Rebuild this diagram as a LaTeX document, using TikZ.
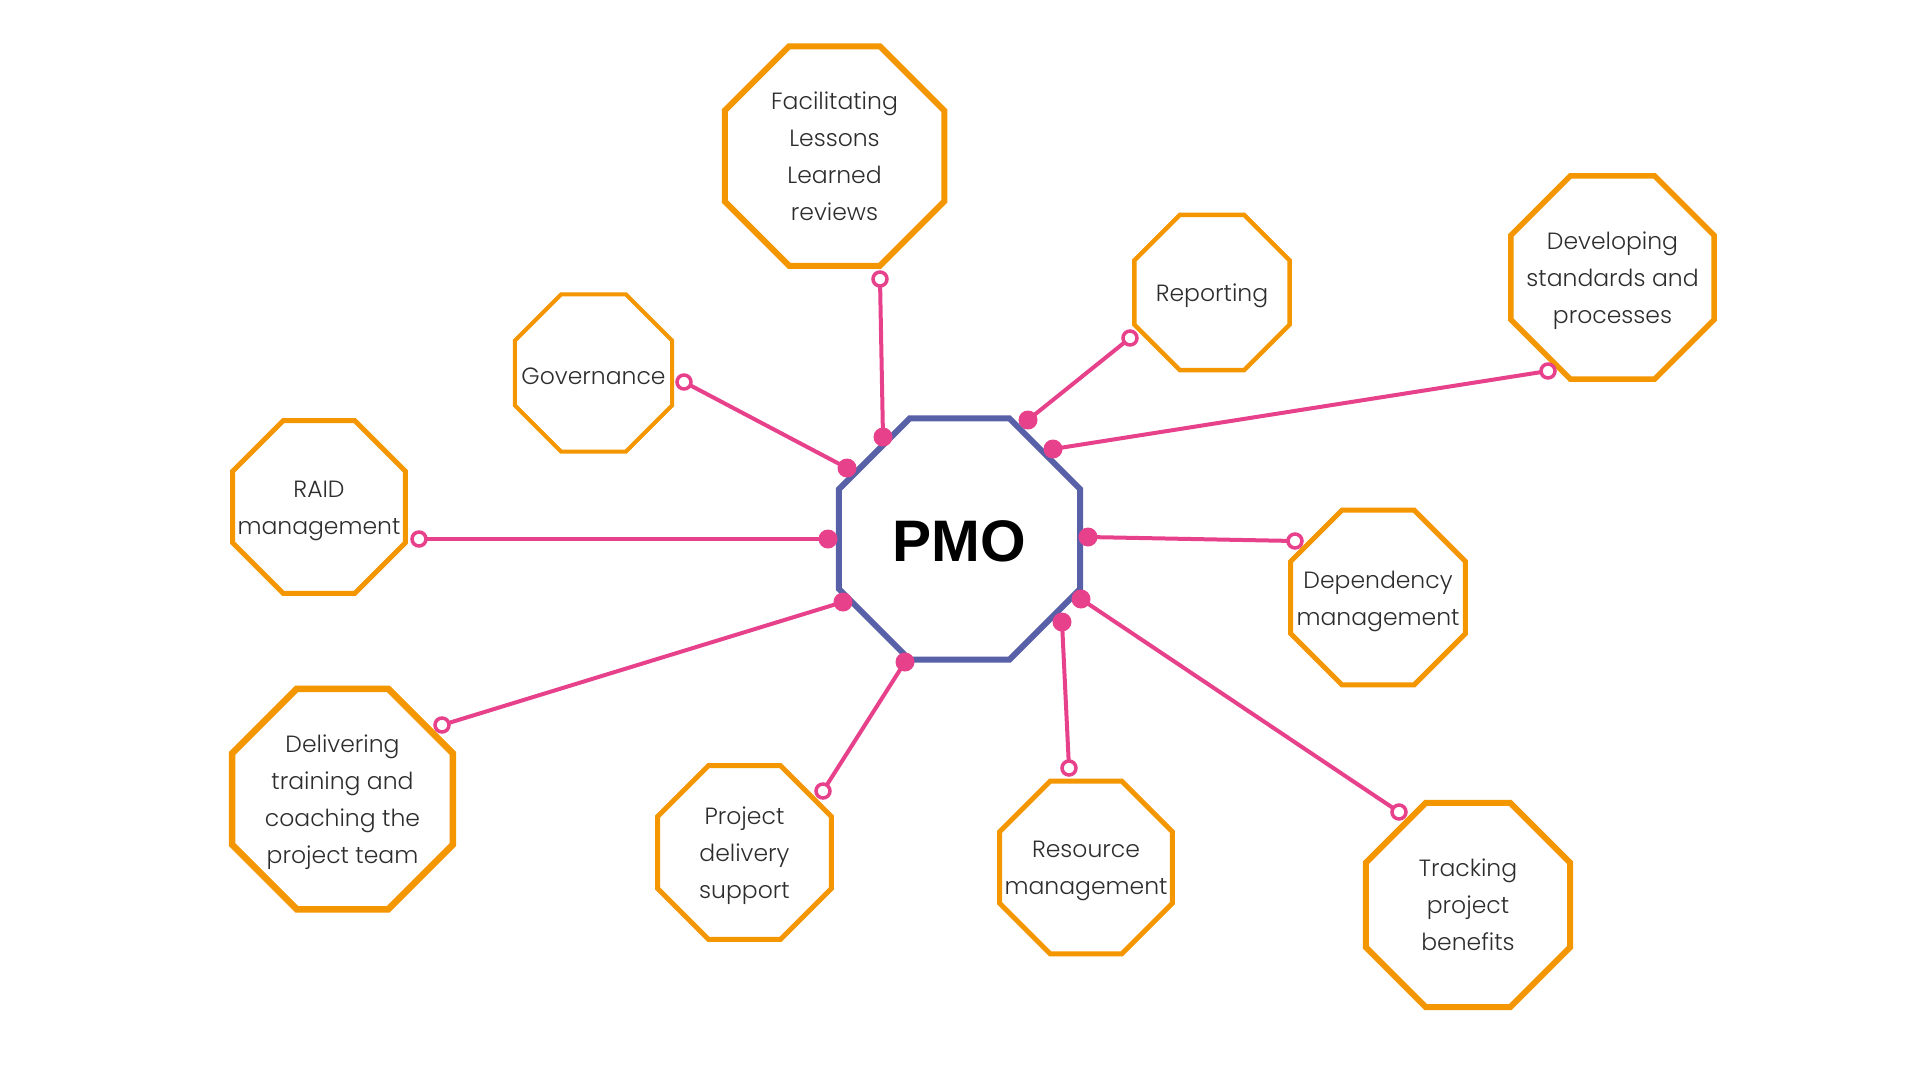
\documentclass[tikz,border=0pt]{standalone}
\usepackage{fontspec}
\usetikzlibrary{shapes.geometric}
\IfFontExistsTF{Poppins Light}{\newfontfamily\labfont{Poppins Light}}{%
 \IfFontExistsTF{Poppins-Light.ttf}{\newfontfamily\labfont{Poppins-Light.ttf}}{%
  \IfFontExistsTF{Poppins-Light.otf}{\newfontfamily\labfont{Poppins-Light.otf}}{%
   \IfFontExistsTF{Lato-Light.ttf}{\newfontfamily\labfont{Lato-Light.ttf}}{%
    \newfontfamily\labfont{Poppins}}}}}
\newfontfamily\pmofont{Liberation Sans}
\definecolor{ocol}{RGB}{243,150,0}
\definecolor{pcol}{RGB}{232,65,140}
\definecolor{bcol}{RGB}{88,96,168}
\definecolor{textc}{RGB}{45,45,45}
\begin{document}
\begin{tikzpicture}[x=1pt,y=-1pt,
  oct/.style={regular polygon, regular polygon sides=8, inner sep=0pt, draw=ocol, fill=white},
  lab/.style={align=center, inner sep=0pt, yshift=-3.5pt, font=\labfont\fontsize{23.5}{37}\selectfont, text=textc},
  conn/.style={draw=pcol, line width=4pt},
  hub/.style={circle, fill=pcol, minimum size=19pt, inner sep=0pt},
  tip/.style={circle, draw=pcol, fill=white, line width=3.5pt, minimum size=14pt, inner sep=0pt}]
\useasboundingbox[fill=white] (0,0) rectangle (1920,1080);

% central hub
\node[regular polygon, regular polygon sides=8, inner sep=0pt, draw=bcol, fill=white,
      line width=6pt, minimum size=261pt] (pmo) at (959.5,539) {};
\node[font=\pmofont\bfseries\fontsize{58.6}{60}\selectfont, inner sep=0pt, yshift=-2pt] (pmol) at (pmo) {PMO};

% outer octagons
\node[oct, line width=6pt, minimum size=237.6pt] (fac) at (834.5,156) {};
\node[lab, yshift=3pt] (facl) at (fac) {Facilitating\\Lessons\\Learned\\reviews};
\node[oct, line width=4pt, minimum size=170pt] (gov) at (593.5,373) {};
\node[lab] (govl) at (gov) {Governance};
\node[oct, line width=4.5pt, minimum size=168pt] (rep) at (1212,292.5) {};
\node[lab] (repl) at (rep) {Reporting};
\node[oct, line width=5.5pt, minimum size=220pt] (dev) at (1612.5,277.5) {};
\node[lab] (devl) at (dev) {Developing\\standards and\\processes};
\node[oct, line width=5pt, minimum size=187pt] (raid) at (319,507) {};
\node[lab] (raidl) at (raid) {RAID\\management};
\node[oct, line width=5pt, minimum size=189pt] (dep) at (1378,597.5) {};
\node[lab] (depl) at (dep) {Dependency\\management};
\node[oct, line width=6.5pt, minimum size=238.7pt] (del) at (342.5,799) {};
\node[lab] (dell) at (del) {Delivering\\training and\\coaching the\\project team};
\node[oct, line width=5pt, minimum size=188pt] (prj) at (744.5,852.5) {};
\node[lab] (prjl) at (prj) {Project\\delivery\\support};
\node[oct, line width=5pt, minimum size=187pt] (res) at (1086,867.5) {};
\node[lab] (resl) at (res) {Resource\\management};
\node[oct, line width=6pt, minimum size=221pt] (trk) at (1468,905) {};
\node[lab, yshift=4pt] (trkl) at (trk) {Tracking\\project\\benefits};

% connector end points
\coordinate (hfac) at (883,437);   \coordinate (tfac) at (880,279);
\coordinate (hgov) at (847,468);   \coordinate (tgov) at (684,382);
\coordinate (hrep) at (1028,420);  \coordinate (trep) at (1130,338);
\coordinate (hdev) at (1053,449);  \coordinate (tdev) at (1548,371);
\coordinate (hdep) at (1088,537);  \coordinate (tdep) at (1295,541);
\coordinate (htrk) at (1081,599);  \coordinate (ttrk) at (1399,812);
\coordinate (hres) at (1062,622);  \coordinate (tres) at (1069,768);
\coordinate (hprj) at (905,662);   \coordinate (tprj) at (823,791);
\coordinate (hdel) at (843,602);   \coordinate (tdel) at (442,725);
\coordinate (hraid) at (828,539);  \coordinate (traid) at (419,539);

\foreach \n in {fac,gov,rep,dev,dep,trk,res,prj,del,raid}{
  \draw[conn] (h\n) -- (t\n);
}
\foreach \n in {fac,gov,rep,dev,dep,trk,res,prj,del,raid}{
  \node[hub] (hd\n) at (h\n) {};
  \node[tip] (td\n) at (t\n) {};
}
\end{tikzpicture}
\end{document}
